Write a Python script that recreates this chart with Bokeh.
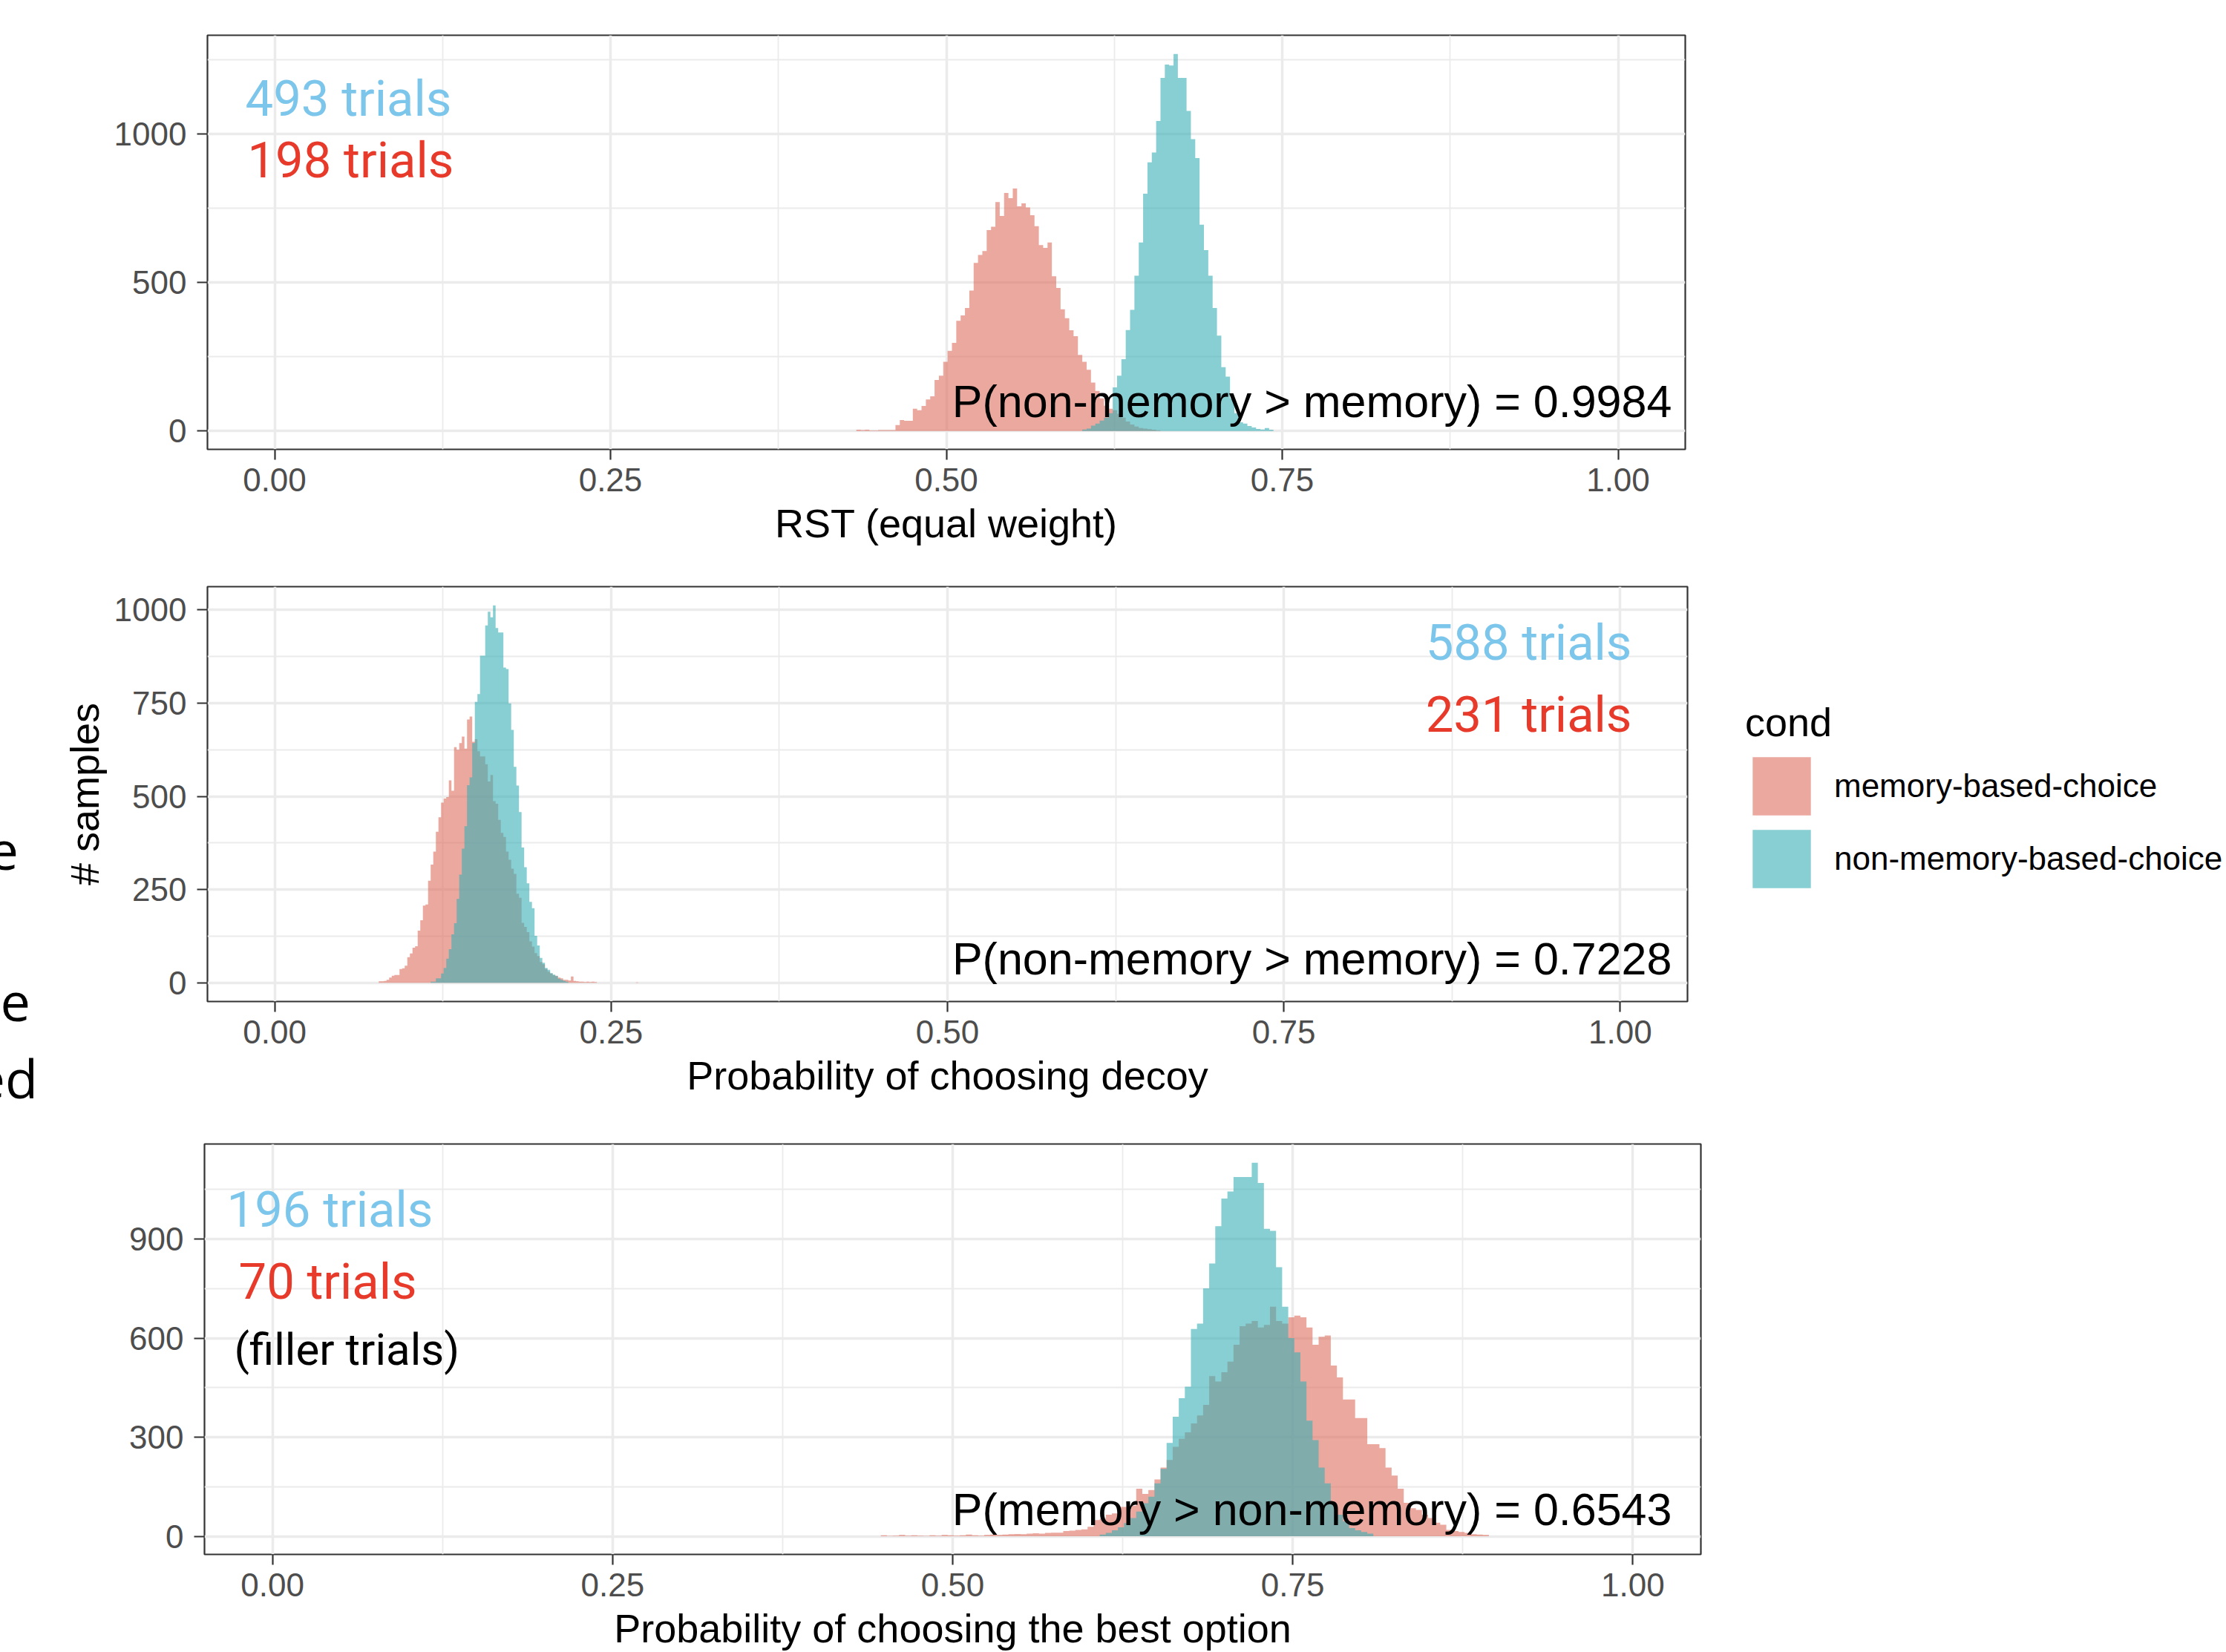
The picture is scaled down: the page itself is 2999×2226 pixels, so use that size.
import numpy as np
from bokeh.plotting import figure
from bokeh.models import (Range1d, FixedTicker, NumeralTickFormatter, Label,
                          Legend, LegendItem, Div)
from bokeh.layouts import column, row
from bokeh.embed import file_html
from bokeh.resources import INLINE

# ---------------- data (histogram bin counts) ----------------
CONDS = ["memory-based-choice", "non-memory-based-choice"]

X_TICKS = [0.0, 0.25, 0.5, 0.75, 1.0]
X_MINOR = [0.125, 0.375, 0.625, 0.875]

# Panel 1: RST (equal weight)
P1_START, P1_WIDTH = 0.4330, 0.003234
P1_MEM = [4, 3, 4, 2, 2, 3, 3, 3, 3, 20,
          37, 34, 34, 75, 70, 84, 106, 117, 172, 186,
          233, 270, 297, 371, 389, 414, 473, 566, 593, 606,
          677, 688, 771, 724, 802, 784, 817, 757, 767, 753,
          727, 690, 626, 617, 635, 521, 482, 410, 380, 339,
          319, 256, 233, 206, 163, 135, 110, 85, 75, 70,
          58, 45, 32, 22, 15, 10, 8, 6, 4, 2,
          0, 0, 0, 0, 0, 0, 0, 0, 0, 0,
          0, 0, 0, 0, 0, 0, 0, 0, 0, 0,
          0, 0, 0, 0, 0, 0]
P1_NON = [0] * 52 + [5, 8, 18, 25, 35, 45, 60, 147, 186, 242,
                     340, 408, 523, 635, 799, 905, 938, 1044, 1189, 1234,
                     1231, 1270, 1189, 1189, 1078, 983, 919, 695, 609, 523,
                     414, 321, 215, 183, 110, 60, 29, 25, 17, 12,
                     7, 5, 10, 4]
P1_YTICKS, P1_YMINOR = [0, 500, 1000], [250, 750, 1250]
P1_YRANGE = (-62, 1333)

# Panel 2: Probability of choosing decoy
P2_START, P2_WIDTH = 0.0773, 0.00193
P2_MEM = [4, 4, 5, 8, 14, 19, 21, 21, 37, 39,
          46, 69, 79, 94, 98, 140, 168, 207, 210, 274,
          317, 352, 405, 444, 483, 494, 498, 543, 515, 632,
          625, 643, 660, 628, 706, 714, 646, 653, 621, 607,
          607, 586, 540, 557, 487, 480, 437, 402, 391, 352,
          330, 306, 292, 239, 228, 161, 150, 136, 111, 97,
          80, 72, 56, 50, 37, 30, 25, 20, 19, 14,
          12, 8, 8, 6, 17, 5, 4, 3, 3, 2,
          3, 2, 3, 2, 0, 0, 0, 0, 0, 0,
          0, 0, 0, 0, 0, 0, 0, 0, 0, 1]
P2_NON = [0] * 20 + [3, 3, 12, 12, 25, 40, 65, 90, 130, 160,
                     225, 290, 360, 420, 530, 551, 643, 753, 774, 877,
                     877, 958, 995, 980, 1012, 951, 939, 939, 845, 841,
                     749, 678, 579, 529, 458, 363, 310, 267, 217, 200,
                     126, 100, 67, 54, 40, 35, 26, 22, 18, 11,
                     8, 5, 3] + [0] * 27
P2_YTICKS, P2_YMINOR = [0, 250, 500, 750, 1000], [125, 375, 625, 875]
P2_YRANGE = (-50, 1062)

# Panel 3: Probability of choosing the best option
P3_START, P3_WIDTH = 0.44718, 0.00447
P3_MEM = [3, 1, 2, 4, 2, 3, 2, 1, 3, 2,
          4, 3, 2, 3, 5, 3, 2, 4, 5, 4,
          5, 6, 7, 6, 8, 9, 8, 10, 11, 11,
          16, 17, 19, 21, 29, 49, 53, 65, 69, 89,
          89, 93, 144, 128, 140, 172, 208, 231, 271, 295,
          315, 342, 366, 398, 485, 469, 497, 529, 580, 636,
          644, 652, 632, 640, 695, 652, 644, 663, 668, 663,
          632, 580, 604, 608, 517, 481, 414, 414, 358, 358,
          279, 279, 267, 208, 184, 144, 101, 85, 80, 65,
          55, 41, 35, 19, 16, 13, 10, 6, 5, 4]
P3_NON = [0] * 36 + [5, 10, 18, 27, 40, 55, 75, 100, 120, 160,
                     204, 283, 362, 418, 453, 628, 644, 751, 826, 939,
                     1023, 1044, 1088, 1088, 1088, 1131, 1070, 931, 925, 815,
                     695, 600, 557, 469, 350, 291, 208, 160, 97, 65,
                     45, 25, 18, 13, 8] + [0] * 19
P3_YTICKS, P3_YMINOR = [0, 300, 600, 900], [150, 450, 750, 1050]
P3_YRANGE = (-55, 1188)

X_TITLES = ["RST (equal weight)", "Probability of choosing decoy",
            "Probability of choosing the best option"]
Y_TITLE = "# samples"
P_TEXTS = ["P(non-memory > memory) = 0.9984", "P(non-memory > memory) = 0.7228",
           "P(memory > non-memory) = 0.6543"]
N_NON = ["493 trials", "588 trials", "196 trials"]
N_MEM = ["198 trials", "231 trials", "70 trials"]
FILLER = "(filler trials)"
FRAGMENTS = ["e", "e", "ed"]

# ---------------- style ----------------
MEM_COLOR = "#DE6E5F"
NON_COLOR = "#39AFB6"
ALPHA = 0.6
BLUE_TXT = "#7CC6EC"
RED_TXT = "#E83A2A"
AX_FONT = "Liberation Sans"
ANN_FONT = "Roboto"
XR = (-0.05, 1.05)


def step_outline(start, width, counts):
    xs, ys = [start], [0]
    for i, c in enumerate(counts):
        x0 = start + i * width
        xs += [x0, x0 + width]
        ys += [c, c]
    xs.append(start + len(counts) * width)
    ys.append(0)
    return xs, ys


def make_panel(w, h, left, top, right, bottom, yr, yticks, yminor,
               start, width, mem, non, xtitle, title_standoff):
    p = figure(width=w, height=h, min_border_left=left,
               min_border_right=right, min_border_top=top, min_border_bottom=bottom,
               x_range=Range1d(*XR), y_range=Range1d(*yr),
               output_backend="svg", toolbar_location=None)
    p.background_fill_color = "white"
    p.border_fill_color = "white"
    p.outline_line_color = "#333333"
    p.outline_line_width = 2.2
    p.xaxis.ticker = FixedTicker(ticks=X_TICKS, minor_ticks=X_MINOR)
    p.yaxis.ticker = FixedTicker(ticks=yticks, minor_ticks=yminor)
    p.xaxis.formatter = NumeralTickFormatter(format="0.00")
    for ax in p.axis:
        ax.axis_line_color = None
        ax.major_tick_line_color = "#333333"
        ax.major_tick_line_width = 2.2
        ax.major_tick_in = 0
        ax.major_tick_out = 14
        ax.minor_tick_line_color = None
        ax.major_label_text_font = AX_FONT
        ax.major_label_text_font_size = "44px"
        ax.major_label_text_color = "#4D4D4D"
        ax.axis_label_text_font = AX_FONT
        ax.axis_label_text_font_size = "54px"
        ax.axis_label_text_font_style = "normal"
        ax.axis_label_text_color = "black"
    p.xaxis.major_label_standoff = 11
    p.yaxis.major_label_standoff = 14
    p.xaxis.axis_label = xtitle
    p.xaxis.axis_label_standoff = title_standoff
    for g in p.grid:
        g.grid_line_color = "#EBEBEB"
        g.grid_line_width = 3.5
        g.minor_grid_line_color = "#EBEBEB"
        g.minor_grid_line_width = 1.8
    xs, ys = step_outline(start, width, mem)
    p.patch(xs, ys, fill_color=MEM_COLOR, fill_alpha=ALPHA, line_color=None)
    xs, ys = step_outline(start, width, non)
    p.patch(xs, ys, fill_color=NON_COLOR, fill_alpha=ALPHA, line_color=None)
    return p


def txt(p, text, x, y, size, color="black", font=AX_FONT, align="left"):
    p.add_layout(Label(x=x, y=y, text=text, text_font=font, text_font_size=size,
                       text_color=color, text_align=align,
                       text_baseline="alphabetic"))


# ---------------- panel 1 ----------------
p1 = make_panel(2999, 745, 279, 47, 729, 140, P1_YRANGE, P1_YTICKS, P1_YMINOR,
                P1_START, P1_WIDTH, P1_MEM, P1_NON, X_TITLES[0], 10)
txt(p1, N_NON[0], -0.0218, 1120, "67px", BLUE_TXT, ANN_FONT)
txt(p1, N_MEM[0], -0.0202, 913, "67px", RED_TXT, ANN_FONT)
txt(p1, P_TEXTS[0], 1.040, 100, "61px", align="right")

# ---------------- panel 2 ----------------
p2 = make_panel(2217, 740, 219, 45, 4, 136, P2_YRANGE, P2_YTICKS, P2_YMINOR,
                P2_START, P2_WIDTH, P2_MEM, P2_NON, X_TITLES[1], 10)
p2.yaxis.axis_label = Y_TITLE
p2.yaxis.axis_label_standoff = 7
txt(p2, N_NON[1], 1.0086, 911, "67px", BLUE_TXT, ANN_FONT, align="right")
txt(p2, N_MEM[1], 1.0086, 718, "67px", RED_TXT, ANN_FONT, align="right")
txt(p2, P_TEXTS[1], 1.0384, 65, "61px", align="right")

# cut-off slide text at the far left (outside any plot)
frag_pos = [(35, 363), (19, 567), (9, 671)]
spans = "".join(
    f'<span style="position:absolute;right:{r}px;top:{t}px;font-family:\'Open Sans\';'
    f'font-size:72px;line-height:1;color:black;white-space:nowrap;">{s}</span>'
    for s, (r, t) in zip(FRAGMENTS, frag_pos))
frag_div = Div(text=f'<div style="position:relative;width:60px;height:740px;'
                    f'overflow:hidden;">{spans}</div>',
               width=60, height=740, margin=0, styles={"overflow": "hidden"})

# legend figure (its own copies of the two histograms, scrolled out of view)
legfig = figure(width=722, height=740, min_border=0, x_range=Range1d(5, 6),
                y_range=Range1d(0, 1), x_axis_location=None, y_axis_location=None,
                output_backend="svg", toolbar_location=None)
legfig.grid.visible = False
legfig.outline_line_color = None
legfig.background_fill_color = "white"
legfig.border_fill_color = "white"
xs, ys = step_outline(P2_START, P2_WIDTH, P2_MEM)
r_mem = legfig.patch(xs, ys, fill_color=MEM_COLOR, fill_alpha=ALPHA, line_color=None)
xs, ys = step_outline(P2_START, P2_WIDTH, P2_NON)
r_non = legfig.patch(xs, ys, fill_color=NON_COLOR, fill_alpha=ALPHA, line_color=None)
legend = Legend(items=[LegendItem(label=CONDS[0], renderers=[r_mem]),
                       LegendItem(label=CONDS[1], renderers=[r_non])],
                location=(74, 143), title="cond",
                title_text_font=AX_FONT, title_text_font_size="54px",
                title_text_font_style="normal", title_text_color="black",
                title_standoff=6,
                label_text_font=AX_FONT, label_text_font_size="44px",
                label_text_color="black",
                glyph_width=98, glyph_height=98, label_standoff=22, spacing=0,
                padding=0, margin=0, border_line_color=None,
                background_fill_alpha=0)
legfig.add_layout(legend, "center")

# ---------------- panel 3 ----------------
p3 = make_panel(2999, 741, 275, 56, 708, 126, P3_YRANGE, P3_YTICKS, P3_YMINOR,
                P3_START, P3_WIDTH, P3_MEM, P3_NON, X_TITLES[2], 10)
txt(p3, N_NON[2], -0.0336, 988, "67px", BLUE_TXT, ANN_FONT)
txt(p3, N_MEM[2], -0.0249, 772, "67px", RED_TXT, ANN_FONT)
txt(p3, FILLER, -0.0282, 565, "60px", "black", ANN_FONT)
txt(p3, P_TEXTS[2], 1.0287, 80, "61px", align="right")

layout = column(row(p1), row(frag_div, p2, legfig), row(p3))
open("out.html", "w").write(file_html(layout, INLINE))
